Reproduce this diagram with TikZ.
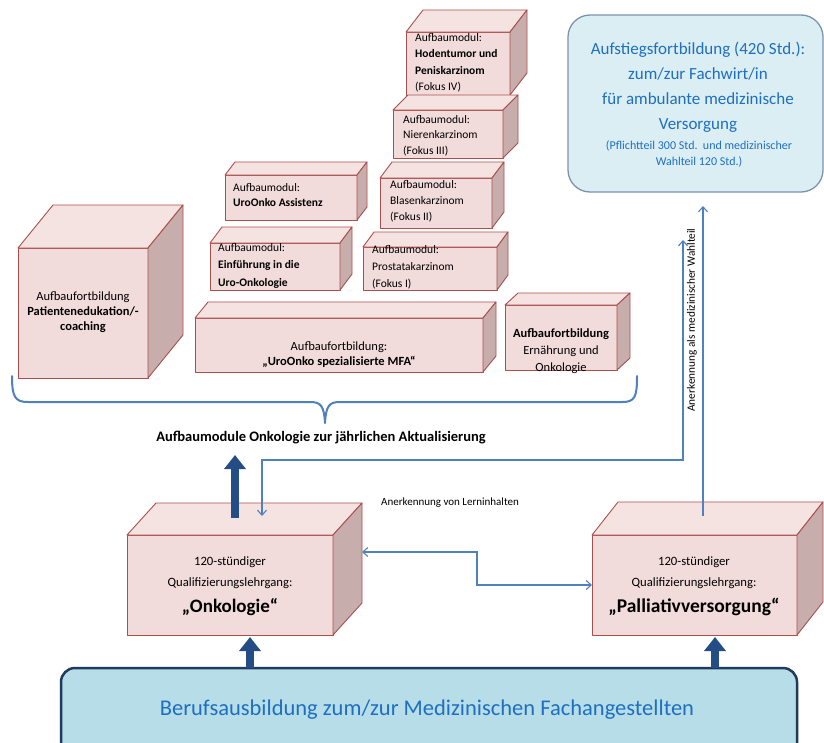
\documentclass[tikz,border=0pt]{standalone}
\usepackage{fontspec}
\setmainfont{Carlito}
\usetikzlibrary{arrows.meta,calc}
\definecolor{cfront}{HTML}{F2DCDB}
\definecolor{ctop}{HTML}{F5E3E2}
\definecolor{cside}{HTML}{C8ADAD}
\definecolor{cborder}{HTML}{A9504E}
\definecolor{cblue}{HTML}{4F81BD}
\definecolor{ctext}{HTML}{1E6FBF}
\definecolor{carrow}{HTML}{244D85}
\definecolor{aufbox}{HTML}{DBEEF4}
\definecolor{aufline}{HTML}{7D93AC}
\definecolor{berbox}{HTML}{B7DEE8}
\definecolor{berline}{HTML}{1F3A5C}
\tikzset{
  cubeface/.style={draw=cborder, line width=0.9pt, line join=round},
  cubefront/.style={cubeface, fill=cfront, inner sep=0pt, outer sep=0pt},
  modtext/.style={anchor=north west, inner sep=0pt, align=left},
  ctrtext/.style={anchor=center, inner sep=0pt, align=center},
  thinline/.style={draw=cblue, line width=1.1pt},
  barbs/.style={thinline, {Straight Barb[length=5pt,width=9pt]}-{Straight Barb[length=5pt,width=9pt]}},
  barb/.style={thinline, -{Straight Barb[length=5pt,width=9pt]}},
  bigarrow/.style={draw=carrow, line width=8pt, -{Triangle[length=14pt,width=21pt]}},
}
\newcommand\mkcube[7]{%
  \node[cubefront, minimum width={(#4-#2)*1pt}, minimum height={(#5-#3)*1pt}] (#1) at ({(#2+#4)/2},{(#3+#5)/2}) {};
  \filldraw[cubeface, fill=ctop] (#1.north west) -- ++(#6,-#7) -- ++({#4-#2},0) -- (#1.north east) -- cycle;
  \filldraw[cubeface, fill=cside] (#1.north east) -- ++(#6,-#7) -- ++(0,{#5-#3}) -- (#1.south east) -- cycle;
}
\begin{document}
\begin{tikzpicture}[x=1pt,y=-1pt]
\useasboundingbox (0,0) rectangle (824,742);
\clip (0,0) rectangle (824,742);
\fill[white] (0,0) rectangle (824,742);

% cuboids, back to front
\mkcube{hoden}{406}{32}{510}{95}{17}{22}
\mkcube{nieren}{393}{110}{503}{158}{15}{15}
\mkcube{assist}{225}{175}{357}{220}{10}{13}
\mkcube{blasen}{380}{178}{492}{228}{12}{16}
\mkcube{einf}{210}{243}{340}{290}{12}{16}
\mkcube{prost}{363}{247}{497}{290}{11}{15}
\mkcube{mfa}{195}{318}{483}{372}{13}{16}
\mkcube{ern}{505}{305}{617}{370}{13}{12}
\mkcube{pat}{18}{248}{148}{378}{35}{43}
\mkcube{onk}{127}{535}{333}{635}{29}{32}
\mkcube{pal}{592}{535}{797}{635}{26}{33}

% module texts
\node[modtext, font=\fontsize{11.5}{16.5}\selectfont] (hodent) at (415,33) {Aufbaumodul:\\\textbf{Hodentumor und}\\\textbf{Peniskarzinom}\\(Fokus IV)};
\node[modtext, font=\fontsize{11.5}{15.5}\selectfont] (nierent) at (403,115) {Aufbaumodul:\\Nierenkarzinom\\(Fokus III)};
\node[modtext, font=\fontsize{11.5}{15}\selectfont] (assistt) at (233,183) {Aufbaumodul:\\\textbf{UroOnko Assistenz}};
\node[modtext, font=\fontsize{11.5}{16}\selectfont] (blasent) at (390,180) {Aufbaumodul:\\Blasenkarzinom\\(Fokus II)};
\node[modtext, font=\fontsize{11.5}{17.5}\selectfont] (einft) at (218,243) {Aufbaumodul:\\\textbf{Einführung in die}\\\textbf{Uro-Onkologie}};
\node[modtext, font=\fontsize{11.5}{17}\selectfont] (prostt) at (372,245) {Aufbaumodul:\\Prostatakarzinom\\(Fokus I)};
\node[ctrtext, font=\fontsize{12.5}{15}\selectfont] (mfat) at (339,355) {Aufbaufortbildung:\\\textbf{„UroOnko spezialisierte MFA“}};
\node[ctrtext, font=\fontsize{12.5}{17}\selectfont] (ernt) at (561,351) {\textbf{Aufbaufortbildung}\\Ernährung und\\Onkologie};
\node[ctrtext, font=\fontsize{12.5}{15}\selectfont] (patt) at (83,312) {Aufbaufortbildung\\\textbf{Patientenedukation/-}\\\textbf{coaching}};

% brace
\draw[draw=cblue, line width=2pt, line cap=round, line join=round]
  (12,376) .. controls (12,397) and (15,402) .. (28,402) -- (310,402)
  .. controls (321,402) and (324,406) .. (325,423)
  .. controls (326,406) and (329,402) .. (340,402) -- (622,402)
  .. controls (635,402) and (637,397) .. (637,376);
\node[font=\fontsize{14.5}{16}\selectfont\bfseries] (caption) at (321,438) {Aufbaumodule Onkologie zur jährlichen Aktualisierung};

% top right box
\node[draw=aufline, line width=1.3pt, fill=aufbox, rounded corners=22pt, minimum width=255pt, minimum height=177pt, inner sep=0pt] (auf) at (695.5,103.5) {};
\node[ctrtext, text=ctext, font=\fontsize{17}{25}\selectfont] (auft) at (698,87.5) {Aufstiegsfortbildung (420 Std.):\\zum/zur Fachwirt/in\\für ambulante medizinische\\Versorgung};
\node[ctrtext, text=ctext, font=\fontsize{12}{16.5}\selectfont] (aufs) at (699,154) {(Pflichtteil 300 Std.\ \ und medizinischer\\Wahlteil 120 Std.)};

% bottom box
\node[draw=berline, line width=2.5pt, fill=berbox, rounded corners=14pt, minimum width=736pt, minimum height=90pt, inner sep=0pt] (beruf) at (429,713) {};
\node[text=ctext, font=\fontsize{22.5}{26}\selectfont, inner sep=0pt] (beruft) at (427,710) {Berufsausbildung zum/zur Medizinischen Fachangestellten};

% qualification texts
\node[ctrtext, font=\fontsize{12.7}{21}\selectfont] (onkt) at (230,573) {120-stündiger\\Qualifizierungslehrgang:};
\node[font=\fontsize{19}{22}\selectfont\bfseries, inner sep=0pt] (onkb) at (230,607) {„Onkologie“};
\node[ctrtext, font=\fontsize{12.7}{21}\selectfont] (palt) at (694,573) {120-stündiger\\Qualifizierungslehrgang:};
\node[font=\fontsize{19.5}{22}\selectfont\bfseries, inner sep=0pt] (palb) at (694,607) {„Palliativversorgung“};

% coordinates for connectors
\coordinate (onkTopA) at (235,518);
\coordinate (capBelow) at (235,455);
\coordinate (onkTopB) at (262,516);
\coordinate (wahlEnd) at (683,240);
\coordinate (palTop) at (703,516);
\coordinate (aufBelow) at (703,206);
\coordinate (onkSide) at (362,552);
\coordinate (berA) at (250,668);
\coordinate (onkBot) at (250,637);
\coordinate (berB) at (715,668);
\coordinate (palBot) at (715,637);

% thick arrows
\draw[bigarrow] (onkTopA) -- (capBelow);
\draw[bigarrow] (berA) -- (onkBot);
\draw[bigarrow] (berB) -- (palBot);

% thin connectors
\draw[barbs] (onkTopB) -- ++(0,-56) -| (wahlEnd);
\draw[barb] (palTop) -- (aufBelow);
\draw[barbs] (onkSide) -- ++(115,0) |- (pal.west);

\node[font=\fontsize{11.3}{12}\selectfont, rotate=90, inner sep=0pt] (wahlt) at (692,320) {Anerkennung als medizinischer Wahlteil};
\node[font=\fontsize{11}{12}\selectfont, inner sep=0pt] (lernt) at (450,503) {Anerkennung von Lerninhalten};
\end{tikzpicture}
\end{document}
